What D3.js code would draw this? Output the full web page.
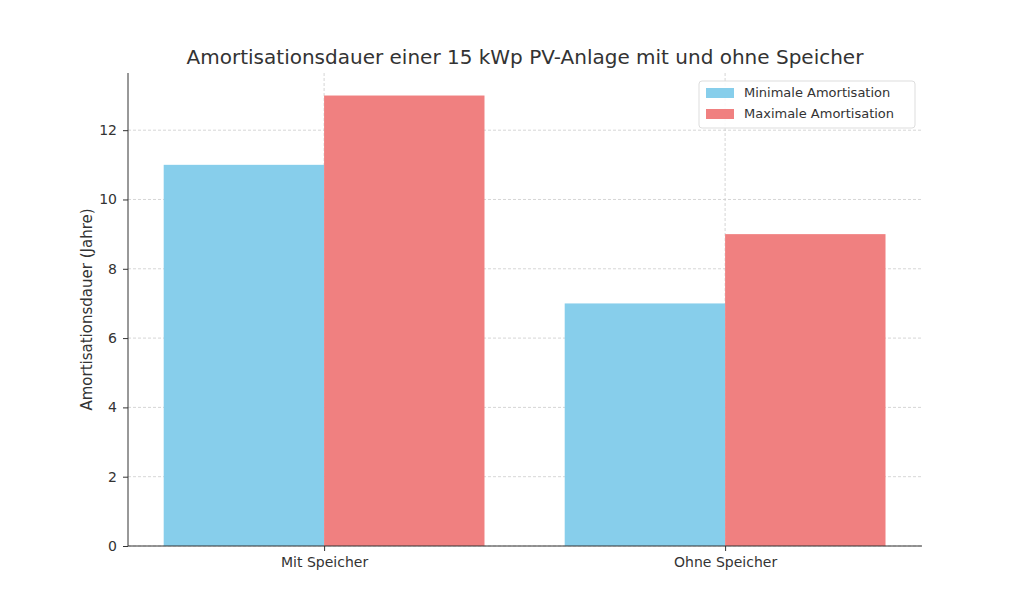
<!DOCTYPE html><html><head><meta charset="utf-8"><script src="https://cdn.jsdelivr.net/npm/d3@7"></script>
<style>body{margin:0;background:#fff}text{font-family:"DejaVu Sans",sans-serif;fill:#333}</style></head><body>
<svg id="c" width="1024" height="614"></svg>
<script>
const categories=["Mit Speicher","Ohne Speicher"];
const minValues=[11,7];
const maxValues=[13,9];
const seriesNames=["Minimale Amortisation","Maximale Amortisation"];
const seriesColors=["#87CEEB","#F08080"];
const yTicks=[0,2,4,6,8,10,12];
const svg=d3.select("#c");
const L=128,R=922,T=73,B=546;
const x=d3.scaleLinear().domain([-0.489,1.491]).range([L,R]);
const y=d3.scaleLinear().domain([0,13.65]).range([B,T]);
const g=svg.append("g");
// grid
g.selectAll(".gy").data(yTicks).join("line").attr("x1",L).attr("x2",R).attr("y1",d=>y(d)).attr("y2",d=>y(d)).attr("stroke","#ccc").attr("stroke-dasharray","3,2").attr("stroke-width",0.8);
g.selectAll(".gx").data(categories).join("line").attr("x1",(d,i)=>x(i)).attr("x2",(d,i)=>x(i)).attr("y1",T).attr("y2",B).attr("stroke","#ccc").attr("stroke-dasharray","3,2").attr("stroke-width",0.8);
const w=0.4;
[minValues,maxValues].forEach((vals,s)=>{
 g.selectAll(".b"+s).data(vals).join("rect").attr("x",(d,i)=>x(i+(s===0?-w:0))).attr("width",x(w)-x(0)).attr("y",d=>y(d)).attr("height",d=>B-y(d)).attr("fill",seriesColors[s]);
});
svg.append("g").attr("transform",`translate(${L},0)`).call(d3.axisLeft(y).tickValues(yTicks).tickSize(5).tickPadding(6)).call(a=>{a.selectAll("text").style("font-size","14px");a.select(".domain").attr("d",`M0,${T}V${B}`);});
svg.append("g").attr("transform",`translate(0,${B})`).call(d3.axisBottom(x).tickValues([0,1]).tickFormat(i=>categories[i]).tickSize(5).tickPadding(6)).call(a=>{a.selectAll("text").style("font-size","14px");a.select(".domain").attr("d",`M${L},0H${R}`);});
svg.selectAll(".domain,.tick line").attr("stroke","#333");
svg.append("text").attr("x",525).attr("y",64).attr("text-anchor","middle").style("font-size","20px").text("Amortisationsdauer einer 15 kWp PV-Anlage mit und ohne Speicher");
svg.append("text").attr("transform",`translate(92,${(T+B)/2}) rotate(-90)`).attr("text-anchor","middle").style("font-size","15px").text("Amortisationsdauer (Jahre)");
const lg=svg.append("g").attr("transform","translate(699,81)");
lg.append("rect").attr("width",216).attr("height",47).attr("rx",3).attr("fill","#fff").attr("fill-opacity",0.85).attr("stroke","#ddd");
seriesNames.forEach((n,i)=>{
 lg.append("rect").attr("x",7).attr("y",7+i*21).attr("width",28).attr("height",10).attr("fill",seriesColors[i]);
 lg.append("text").attr("x",45).attr("y",16+i*21).style("font-size","13px").text(n);
});
</script></body></html>
